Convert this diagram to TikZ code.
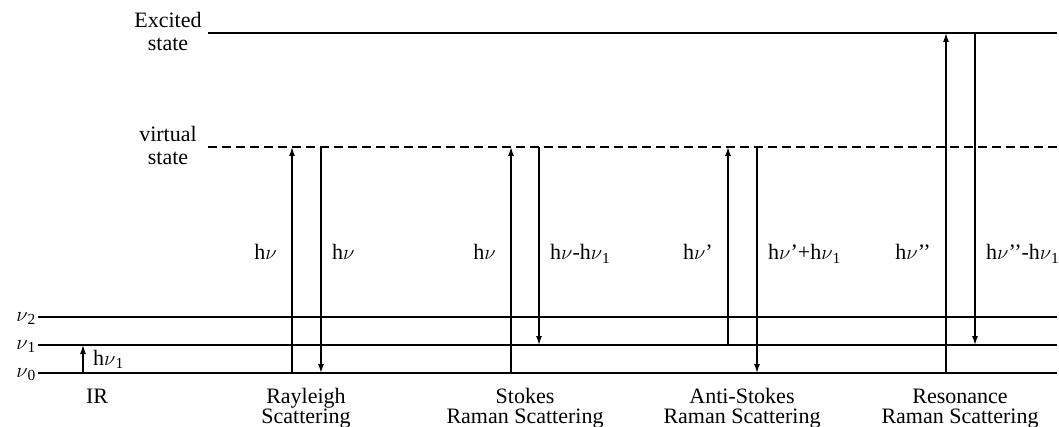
\documentclass[tikz,border=0pt]{standalone}
\usepackage{fontspec}
\setmainfont{Liberation Serif}
\usetikzlibrary{arrows.meta}
\newcommand{\nuI}{$\nu$}
\begin{document}
\begin{tikzpicture}[x=1pt,y=-1pt,
  level/.style={line width=1.3pt},
  vlevel/.style={line width=1.3pt, dash pattern=on 9pt off 5pt},
  trans/.style={line width=1.3pt,-{Latex[length=9pt,width=6pt]}},
  lbl/.style={font=\fontsize{22}{20}\selectfont, inner sep=0pt},
  statelbl/.style={font=\fontsize{22}{23}\selectfont, inner sep=0pt, align=center},
  botlbl/.style={font=\fontsize{22}{20}\selectfont, inner sep=0pt, align=center, anchor=base}]
\useasboundingbox (0,0) rectangle (1059,427);
% levels
\coordinate (exL) at (208,33);  \coordinate (exR) at (1057,33);
\coordinate (viL) at (208,147); \coordinate (viR) at (1057,147);
\coordinate (n2L) at (38,317);  \coordinate (n2R) at (1057,317);
\coordinate (n1L) at (38,345);  \coordinate (n1R) at (1057,345);
\coordinate (n0L) at (38,373);  \coordinate (n0R) at (1057,373);
\draw[level] (exL) -- (exR);
\draw[vlevel] (viL) -- (viR);
\draw[level] (n2L) -- (n2R);
\draw[level] (n1L) -- (n1R);
\draw[level] (n0L) -- (n0R);
% level labels
\node[statelbl] (exlab) at (168,31) {Excited\\state};
\node[statelbl] (vilab) at (168,145) {virtual\\state};
\node[lbl, anchor=base east] (n2lab) at (36,321) {\nuI\textsubscript{2}};
\node[lbl, anchor=base east] (n1lab) at (36,349) {\nuI\textsubscript{1}};
\node[lbl, anchor=base east] (n0lab) at (36,377) {\nuI\textsubscript{0}};
% IR
\coordinate (irB) at (83,373); \coordinate (irT) at (83,345);
\draw[trans] (irB) -- (irT);
\node[lbl, anchor=base west] (irlab) at (93,365) {h\nuI\textsubscript{1}};
% Rayleigh
\coordinate (raUB) at (292,373); \coordinate (raUT) at (292,147);
\coordinate (raDT) at (321,147); \coordinate (raDB) at (321,373);
\draw[trans] (raUB) -- (raUT);
\draw[trans] (raDT) -- (raDB);
\node[lbl, anchor=base east] (ralab1) at (277,260) {h\nuI};
\node[lbl, anchor=base west] (ralab2) at (332,260) {h\nuI};
% Stokes
\coordinate (stUB) at (511,373); \coordinate (stUT) at (511,147);
\coordinate (stDT) at (539,147); \coordinate (stDB) at (539,345);
\draw[trans] (stUB) -- (stUT);
\draw[trans] (stDT) -- (stDB);
\node[lbl, anchor=base east] (stlab1) at (496,260) {h\nuI};
\node[lbl, anchor=base west] (stlab2) at (550,260) {h\nuI-h\nuI\textsubscript{1}};
% Anti-Stokes
\coordinate (asUB) at (728,345); \coordinate (asUT) at (728,147);
\coordinate (asDT) at (757,147); \coordinate (asDB) at (757,373);
\draw[trans] (asUB) -- (asUT);
\draw[trans] (asDT) -- (asDB);
\node[lbl, anchor=base east] (aslab1) at (713,260) {h\nuI’};
\node[lbl, anchor=base west] (aslab2) at (768,260) {h\nuI’+h\nuI\textsubscript{1}};
% Resonance
\coordinate (reUB) at (946,373); \coordinate (reUT) at (946,33);
\coordinate (reDT) at (975,33);  \coordinate (reDB) at (975,345);
\draw[trans] (reUB) -- (reUT);
\draw[trans] (reDT) -- (reDB);
\node[lbl, anchor=base east] (relab1) at (931,260) {h\nuI’’};
\node[lbl, anchor=base west] (relab2) at (986,260) {h\nuI’’-h\nuI\textsubscript{1}};
% bottom labels
\node[botlbl] (irname) at (97,403) {IR};
\node[botlbl] (raname) at (306,423) {Rayleigh\\Scattering};
\node[botlbl] (stname) at (525,423) {Stokes\\Raman Scattering};
\node[botlbl] (asname) at (742,423) {Anti-Stokes\\Raman Scattering};
\node[botlbl] (rename) at (960,423) {Resonance\\Raman Scattering};
\end{tikzpicture}
\end{document}
